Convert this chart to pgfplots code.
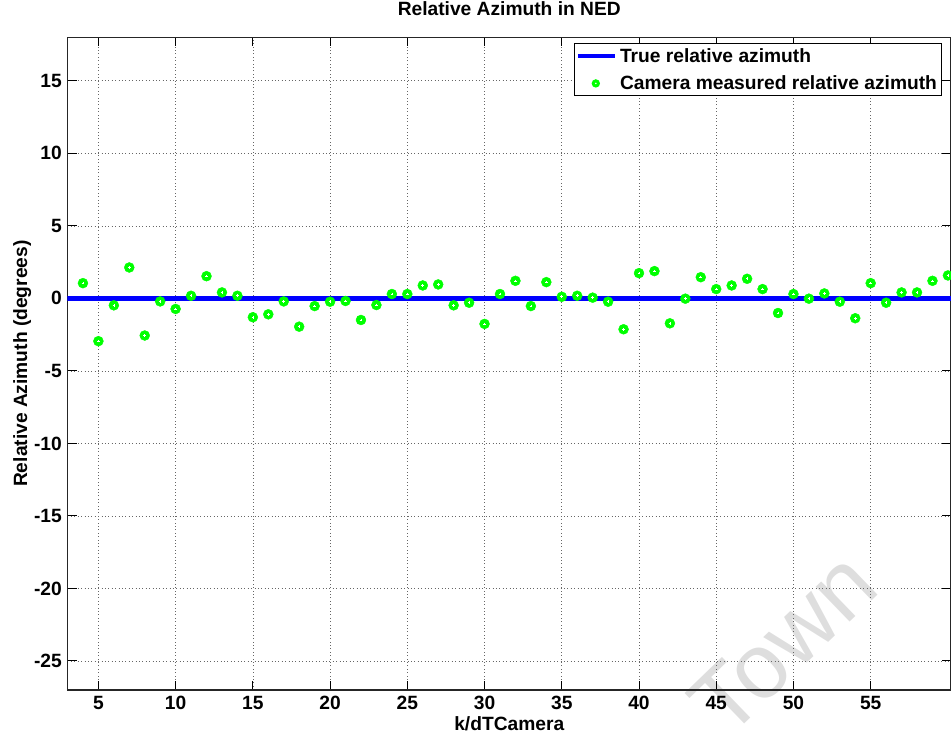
\documentclass[border=0pt]{standalone}
\usepackage{fontspec}
\setmainfont{Liberation Sans}
\usepackage{pgfplots}
\usepackage{pgfplotstable}
\pgfplotsset{compat=1.18}
\definecolor{mblue}{RGB}{0,0,255}
\definecolor{mgreen}{RGB}{0,255,0}
\definecolor{wmark}{RGB}{222,222,222}
\pgfplotstableread{
k az
4 1.05
5 -2.95
6 -0.48
7 2.13
8 -2.56
9 -0.21
10 -0.73
11 0.18
12 1.53
13 0.41
14 0.18
15 -1.30
16 -1.10
17 -0.21
18 -1.95
19 -0.53
20 -0.23
21 -0.18
22 -1.49
23 -0.46
24 0.30
25 0.30
26 0.89
27 0.96
28 -0.48
29 -0.30
30 -1.76
31 0.30
32 1.21
33 -0.53
34 1.12
35 0.11
36 0.18
37 0.05
38 -0.23
39 -2.13
40 1.74
41 1.88
42 -1.72
43 -0.02
44 1.46
45 0.64
46 0.89
47 1.35
48 0.64
49 -1.01
50 0.30
51 -0.02
52 0.34
53 -0.23
54 -1.37
55 1.05
56 -0.30
57 0.41
58 0.41
59 1.21
60 1.58
}\camdata
\newcommand{\lblfont}{\fontsize{19.2}{22}\selectfont\bfseries}
\begin{document}
\begin{tikzpicture}
\node[rotate=44, text=wmark, font=\fontsize{92}{100}\selectfont, inner sep=0] at (783pt,95pt) {Town};
\begin{axis}[
  at={(67.5pt,48pt)}, anchor=south west,
  scale only axis, width=883.5pt, height=652.7pt,
  xmin=3, xmax=60.2, ymin=-27, ymax=18,
  xtick={5,10,...,55}, ytick={-25,-20,...,15},
  /pgf/number format/assume math mode=true,
  tick label style={font=\lblfont},
  xticklabel style={anchor=base, inner sep=0pt, yshift=-20pt},
  yticklabel style={anchor=east, inner sep=0pt, xshift=-5.5pt},
  tick align=inside, major tick length=9pt,
  tick style={black, line width=1pt},
  axis line style={black!85, line width=1.3pt},
  grid=major,
  major grid style={black!60, line width=0.7pt, dash pattern=on 0.8pt off 2.6pt},
  title={Relative Azimuth in NED},
  title style={font=\lblfont, at={(axis description cs:0.5,1.02344)}, anchor=base, inner sep=0pt},
  xlabel={k/dTCamera},
  xlabel style={font=\lblfont, at={(axis description cs:0.5,-0.0613)}, anchor=base, inner sep=0pt},
  ylabel={Relative Azimuth (degrees)},
  ylabel style={font=\lblfont, at={(axis description cs:-0.0458,0.5)}, anchor=base, inner sep=0pt},
  legend style={at={(1,1)}, anchor=north east, xshift=-9pt, yshift=-6pt,
    draw=black, line width=1pt, font=\lblfont, inner sep=1.5pt,
    nodes={inner sep=3pt}, row sep=6pt},
  legend cell align=left,
]
\addplot[mblue, line width=4.5pt,
  legend image code/.code={\draw[mblue, line width=4.5pt] (0pt,0pt) -- (37pt,0pt);}]
  coordinates {(3,0) (61,0)};
\addlegendentry{True relative azimuth}
\addplot[only marks, mark=*, mark size=5pt, mark options={draw=mgreen, fill=mgreen},
  legend image code/.code={\path[draw=none] (0pt,0pt) -- (37pt,0pt); \fill[mgreen, draw=none] (18pt,0pt) circle (4.2pt); \fill[white, draw=none] (18pt,0pt) circle (0.9pt);}]
  table[x=k, y=az] {\camdata};
\addlegendentry{Camera measured relative azimuth}
\addplot[only marks, mark=+, mark size=1.3pt, mark options={draw=white, line width=0.6pt}, forget plot]
  table[x=k, y=az] {\camdata};
\end{axis}
\pgfresetboundingbox
\path (0pt,0pt) rectangle (951pt,738pt);
\end{tikzpicture}
\end{document}
